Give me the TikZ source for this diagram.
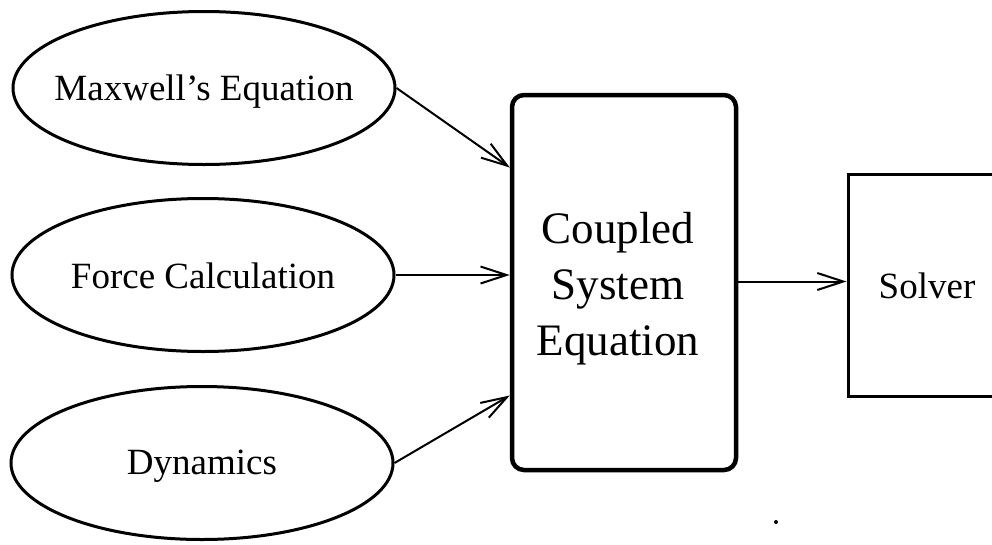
\documentclass[tikz,border=0pt]{standalone}
\usepackage{fontspec}
\setmainfont{Liberation Serif}
\usetikzlibrary{shapes.geometric,arrows.meta}
\begin{document}
\begin{tikzpicture}[x=1pt,y=-1pt,
  oval/.style={ellipse,draw,line width=3pt,inner sep=0pt,minimum width=382pt,minimum height=153pt},
  ovaltext/.style n args={2}{label={[font=\fontsize{37}{44}\selectfont,inner sep=0pt,yshift=#2]center:#1}},
  bigbox/.style={draw,line width=4.5pt,rounded corners=12pt,minimum width=224pt,minimum height=375pt,inner sep=0pt},
  solverbox/.style={draw,line width=3pt,minimum width=158pt,minimum height=222pt,inner sep=0pt,font=\fontsize{37}{44}\selectfont},
  conn/.style={line width=2pt,-{Straight Barb[length=26pt,width=17pt,line width=2pt]}}]
\useasboundingbox (0,0) rectangle (992,544);
\clip (0,0) rectangle (992,544);
\fill[white] (0,0) rectangle (992,544);
\node[oval,ovaltext={Maxwell's Equation}{-4pt}] (m) at (204,88) {};
\node[oval,ovaltext={Force Calculation}{-1pt}] (f) at (203,275) {};
\node[oval,ovaltext={Dynamics}{-3pt}] (d) at (202,463) {};
\node[bigbox] (c) at (624,282.5) {};
\node[align=center,font=\fontsize{45}{56}\selectfont,inner sep=0pt] (ct) at (618,289) {Coupled\\System\\Equation};
\node[solverbox] (s) at (927,285.5) {Solver};
\draw[conn] (m.east) -- ([yshift=115pt]c.west);
\draw[conn] (f.east) -- (c.west |- f.east);
\draw[conn] (d.east) -- ([yshift=-113pt]c.west);
\draw[conn] ([yshift=1pt]c.east) -- ([yshift=1pt]c.east -| s.west);
\fill (776,522) circle (2pt);
\end{tikzpicture}
\end{document}
